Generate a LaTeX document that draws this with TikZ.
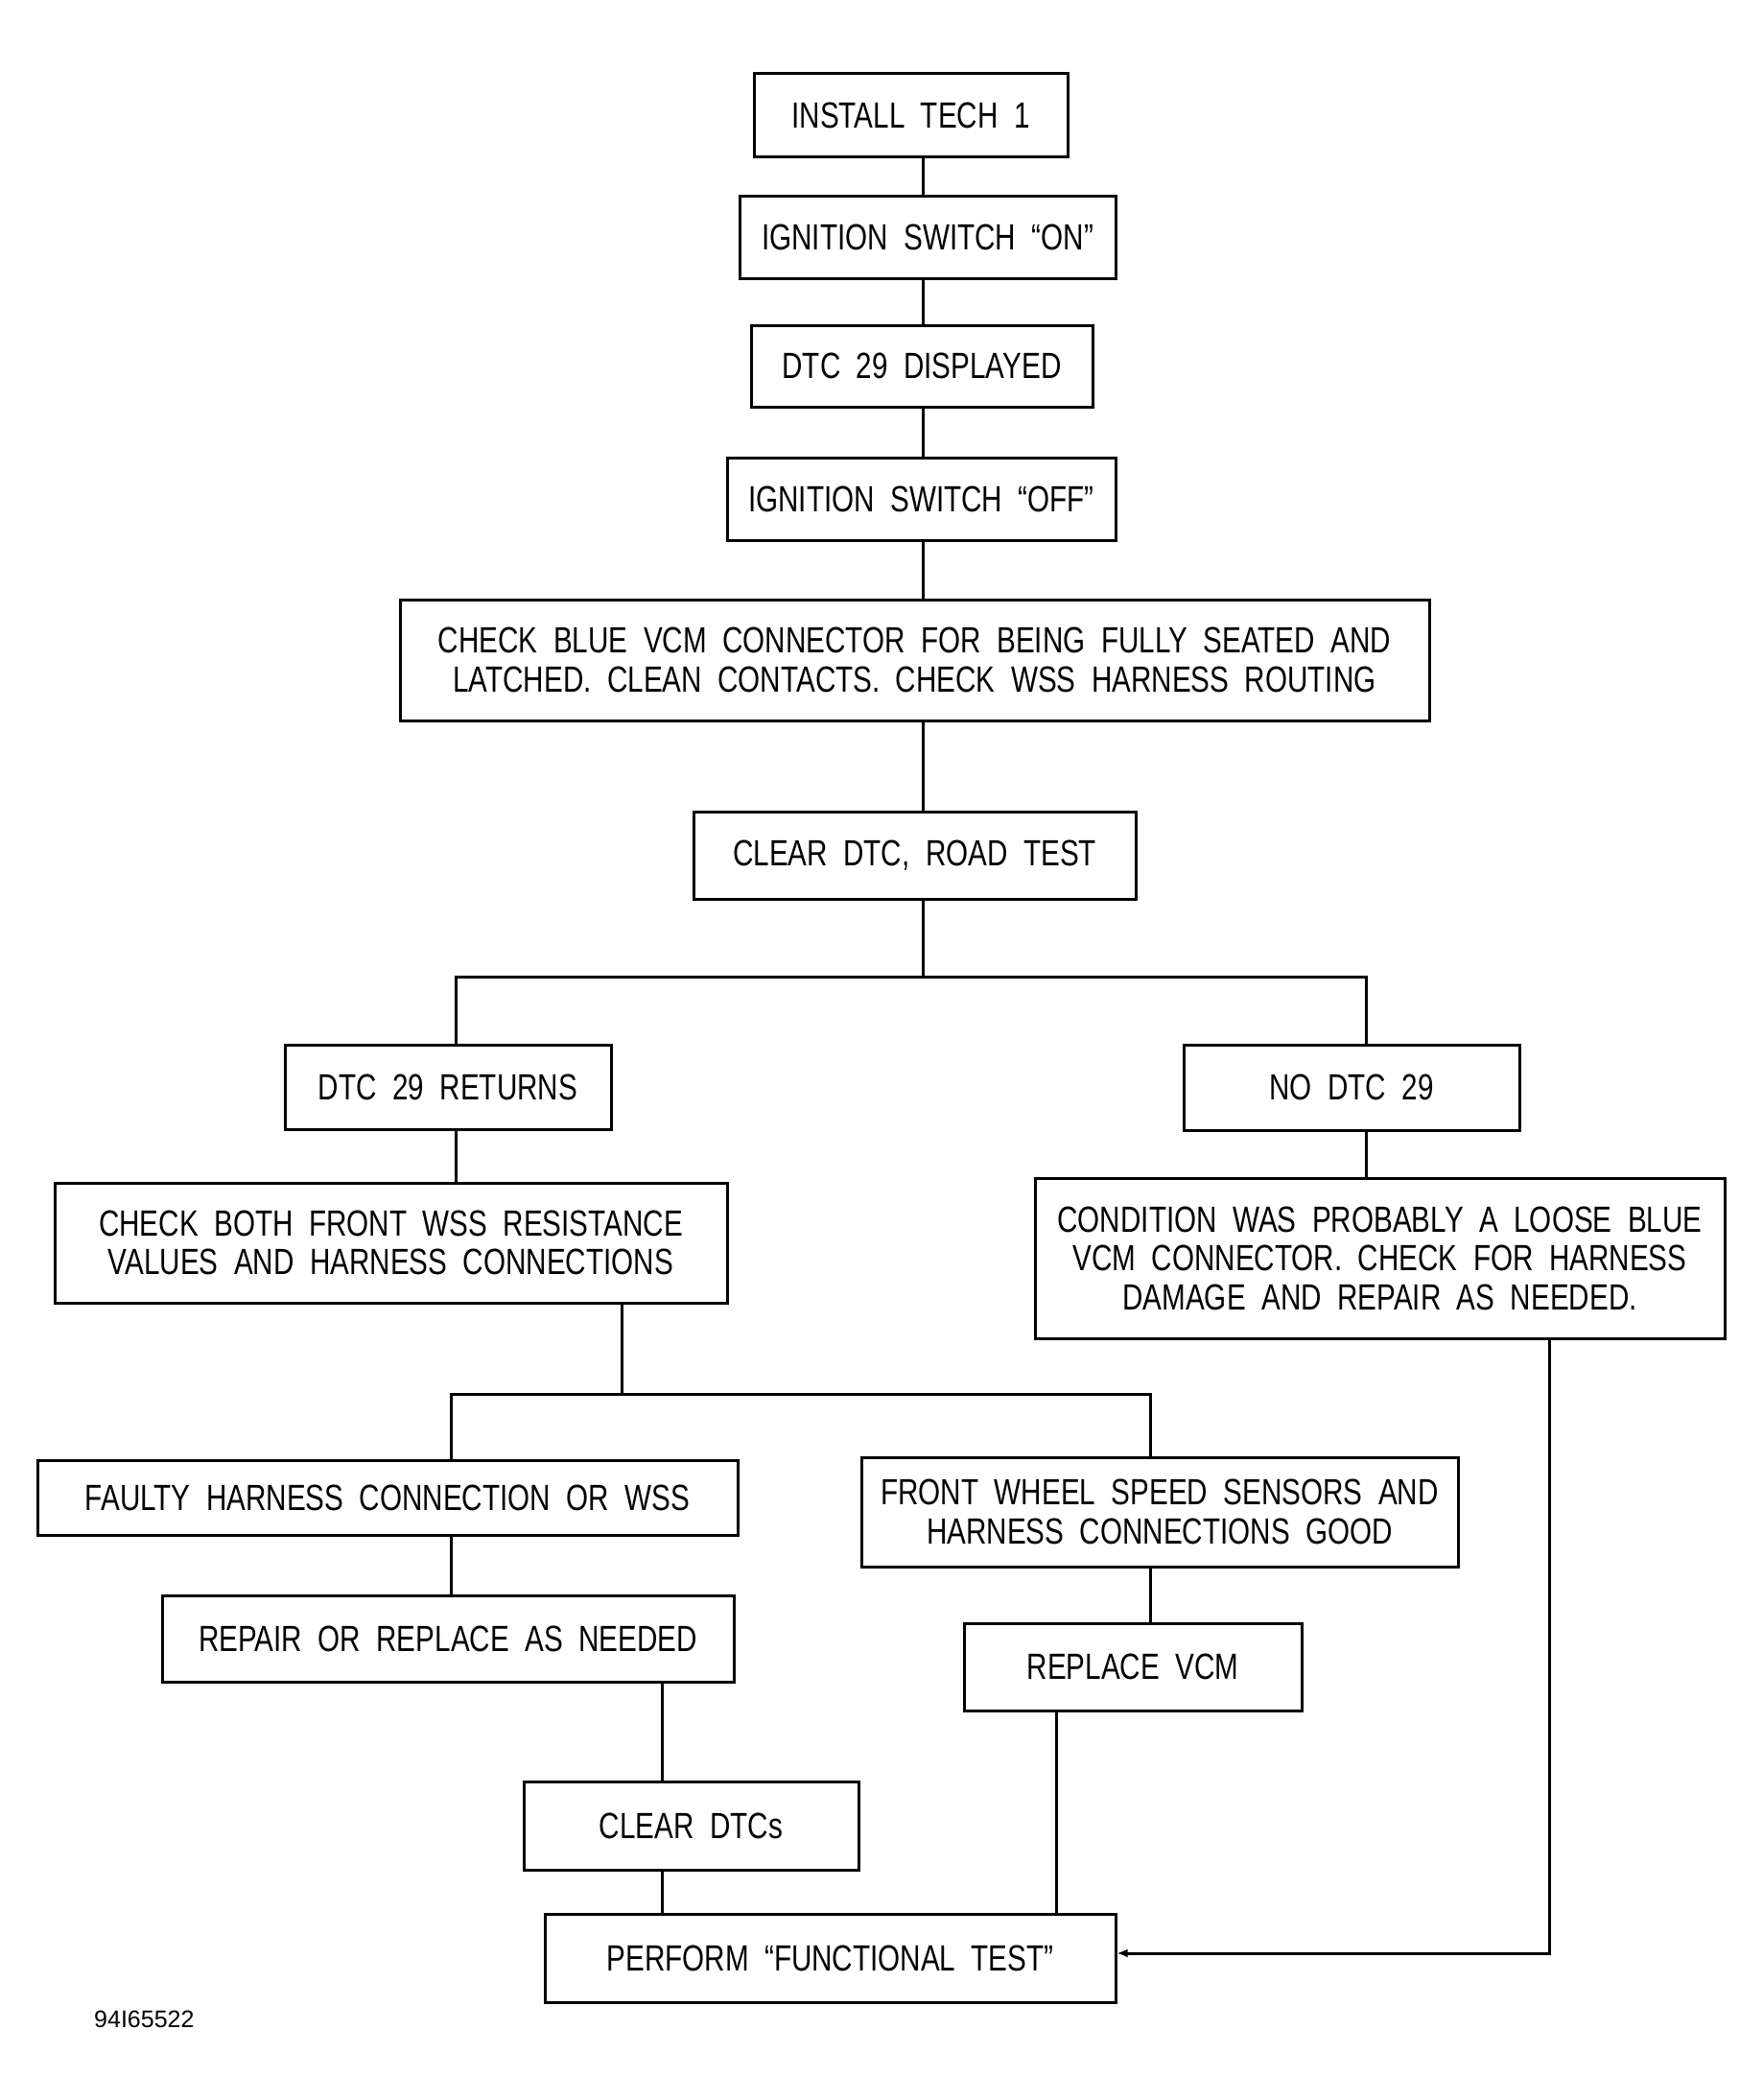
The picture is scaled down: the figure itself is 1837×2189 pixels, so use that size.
\documentclass[tikz,border=0pt]{standalone}
\usepackage{fontspec}
\setmainfont[FakeStretch=0.78,WordSpace=2.0]{Liberation Sans}
\newfontfamily\labelfont{Liberation Sans}
\usetikzlibrary{arrows.meta}
\begin{document}
\begin{tikzpicture}[x=1pt,y=-1pt,
  box/.style={draw, line width=3pt, inner sep=0pt, align=center,
    font=\fontsize{38}{40.5}\selectfont},
  conn/.style={line width=3pt},
  tip/.style={-{Latex[length=11pt,width=9pt]}}]
\useasboundingbox[fill=white] (0,0) rectangle (1837,2189);

% boxes
\node[box, minimum width=327pt, minimum height=86pt] (install) at (949.5,120) {INSTALL TECH 1};
\node[box, minimum width=392pt, minimum height=86pt] (ignon) at (967,247) {IGNITION SWITCH ``ON''};
\node[box, minimum width=356pt, minimum height=85pt] (dtcdisp) at (961,381.5) {DTC 29 DISPLAYED};
\node[box, minimum width=405pt, minimum height=86pt] (ignoff) at (960.5,520) {IGNITION SWITCH ``OFF''};
\node[box, minimum width=1073pt, minimum height=126pt] (checkblue) at (953.5,688) {CHECK BLUE VCM CONNECTOR FOR BEING FULLY SEATED AND\\LATCHED. CLEAN CONTACTS. CHECK WSS HARNESS ROUTING};
\node[box, minimum width=461pt, minimum height=91pt] (clearroad) at (953.5,891.5) {CLEAR DTC, ROAD TEST};
\node[box, minimum width=340pt, minimum height=88pt] (returns) at (467,1133) {DTC 29 RETURNS};
\node[box, minimum width=350pt, minimum height=89pt] (nodtc) at (1409,1133.5) {NO DTC 29};
\node[box, minimum width=701pt, minimum height=125pt] (checkboth) at (407.5,1295.5) {CHECK BOTH FRONT WSS RESISTANCE\\VALUES AND HARNESS CONNECTIONS};
\node[box, minimum width=719pt, minimum height=167pt] (condition) at (1438.5,1311.5) {CONDITION WAS PROBABLY A LOOSE BLUE\\VCM CONNECTOR. CHECK FOR HARNESS\\DAMAGE AND REPAIR AS NEEDED.};
\node[box, minimum width=730pt, minimum height=78pt] (faulty) at (404,1561) {FAULTY HARNESS CONNECTION OR WSS};
\node[box, minimum width=622pt, minimum height=114pt] (frontwheel) at (1209,1576) {FRONT WHEEL SPEED SENSORS AND\\HARNESS CONNECTIONS GOOD};
\node[box, minimum width=596pt, minimum height=90pt] (repair) at (467,1708) {REPAIR OR REPLACE AS NEEDED};
\node[box, minimum width=352pt, minimum height=91pt] (replvcm) at (1181,1737.5) {REPLACE VCM};
\node[box, minimum width=349pt, minimum height=92pt] (cleardtcs) at (720.5,1903) {CLEAR DTCs};
\node[box, minimum width=595pt, minimum height=92pt] (perform) at (865.5,2041) {PERFORM ``FUNCTIONAL TEST''};

\node[font=\labelfont\fontsize{25}{28}\selectfont, anchor=west, inner sep=0pt] (code) at (98,2105) {94I65522};

% connector guide coordinates
\coordinate (trunk) at (962,0);
\coordinate (xret) at (475,0);
\coordinate (xno) at (1424,0);
\coordinate (bar1) at (962,1018);
\coordinate (xboth) at (648,0);
\coordinate (bar2) at (648,1453);
\coordinate (xfault) at (470,0);
\coordinate (xfront) at (1199,0);
\coordinate (xclr) at (690,0);
\coordinate (xvcm) at (1101,0);
\coordinate (xcond) at (1615,0);
\coordinate (turn) at (1615,2036);

% connectors
\draw[conn] (install.south -| trunk) -- (ignon.north -| trunk);
\draw[conn] (ignon.south -| trunk) -- (dtcdisp.north -| trunk);
\draw[conn] (dtcdisp.south -| trunk) -- (ignoff.north -| trunk);
\draw[conn] (ignoff.south -| trunk) -- (checkblue.north -| trunk);
\draw[conn] (checkblue.south -| trunk) -- (clearroad.north -| trunk);
\draw[conn] (clearroad.south -| trunk) -- (bar1);
\draw[conn] (returns.north -| xret) |- (bar1) -| (nodtc.north -| xno);
\draw[conn] (returns.south -| xret) -- (checkboth.north -| xret);
\draw[conn] (nodtc.south -| xno) -- (condition.north -| xno);
\draw[conn] (checkboth.south -| xboth) -- (bar2);
\draw[conn] (faulty.north -| xfault) |- (bar2) -| (frontwheel.north -| xfront);
\draw[conn] (faulty.south -| xfault) -- (repair.north -| xfault);
\draw[conn] (frontwheel.south -| xfront) -- (replvcm.north -| xfront);
\draw[conn] (repair.south -| xclr) -- (cleardtcs.north -| xclr);
\draw[conn] (cleardtcs.south -| xclr) -- (perform.north -| xclr);
\draw[conn] (replvcm.south -| xvcm) -- (perform.north -| xvcm);
\draw[conn, tip] (condition.south -| xcond) -- (turn) -- (perform.east |- turn);
\end{tikzpicture}
\end{document}
